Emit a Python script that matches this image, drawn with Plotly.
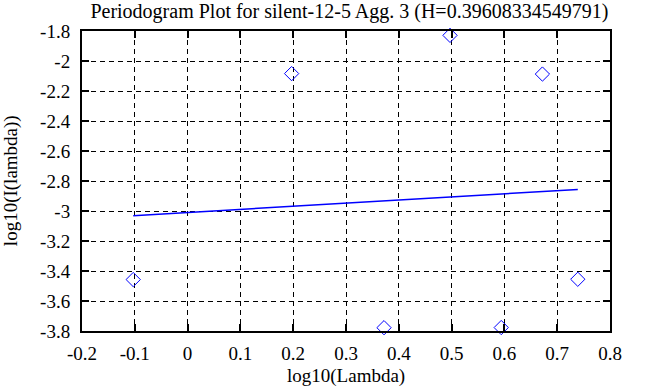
import plotly.graph_objects as go

log_lambda = [-0.103, 0.197, 0.372, 0.497, 0.594, 0.672, 0.739]
log_I = [-3.457, -2.084, -3.778, -1.829, -3.777, -2.087, -3.455]
fit_x = [-0.103, 0.739]
fit_slope = 0.208
fit_intercept = -3.0096
fit_y = [fit_intercept + fit_slope * v for v in fit_x]

title_text = "Periodogram Plot for silent-12-5 Agg. 3 (H=0.39608334549791)"
x_title = "log10(Lambda)"
y_title = "log10(I(lambda))"
x_ticks = [-0.2, -0.1, 0, 0.1, 0.2, 0.3, 0.4, 0.5, 0.6, 0.7, 0.8]
x_tick_text = ["-0.2", "-0.1", "0", "0.1", "0.2", "0.3", "0.4", "0.5", "0.6", "0.7", "0.8"]
y_ticks = [-3.8, -3.6, -3.4, -3.2, -3.0, -2.8, -2.6, -2.4, -2.2, -2.0, -1.8]
y_tick_text = ["-3.8", "-3.6", "-3.4", "-3.2", "-3", "-2.8", "-2.6", "-2.4", "-2.2", "-2", "-1.8"]

font_family = "Liberation Serif"

fig = go.Figure()
fig.add_trace(go.Scatter(
    x=log_lambda, y=log_I, mode="markers",
    marker=dict(symbol="diamond-open", size=11, color="#0000ff", line=dict(width=1, color="#0000ff")),
    showlegend=False, cliponaxis=False, hoverinfo="skip"))
fig.add_trace(go.Scatter(
    x=fit_x, y=fit_y, mode="lines",
    line=dict(color="#0000ff", width=1.5), showlegend=False, hoverinfo="skip"))

axis_common = dict(
    showline=True, linecolor="black", linewidth=2, mirror="allticks",
    ticks="inside", ticklen=7, tickwidth=2, tickcolor="black",
    showgrid=True, gridcolor="black", gridwidth=1, griddash="5px,4px",
    zeroline=False, automargin=False,
    tickfont=dict(family=font_family, size=19, color="black"),
)

fig.update_layout(
    width=653, height=387,
    margin=dict(l=81.5, r=42.5, t=30.7, b=56.3),
    paper_bgcolor="white", plot_bgcolor="white",
    hovermode=False,
    title=dict(text=title_text, x=0.535, xanchor="center", y=0.972, yanchor="middle",
               font=dict(family=font_family, size=20, color="black")),
    xaxis=dict(range=[-0.2, 0.8], tickvals=x_ticks, ticktext=x_tick_text, ticklabelstandoff=4,
               **axis_common),
    yaxis=dict(range=[-3.8, -1.8], tickvals=y_ticks, ticktext=y_tick_text, ticklabelstandoff=6,
               **axis_common),
    annotations=[
        dict(text=x_title, xref="paper", yref="paper", x=0.5, y=-0.151,
             xanchor="center", yanchor="middle", showarrow=False,
             font=dict(family=font_family, size=19, color="black")),
        dict(text=y_title, xref="paper", yref="paper", x=-0.1342, y=0.5,
             xanchor="center", yanchor="middle", textangle=-90, showarrow=False,
             font=dict(family=font_family, size=19, color="black")),
    ],
)

fig.write_html("out.html", config={"displayModeBar": False, "staticPlot": True},
               post_script="document.body.style.margin='0';")
